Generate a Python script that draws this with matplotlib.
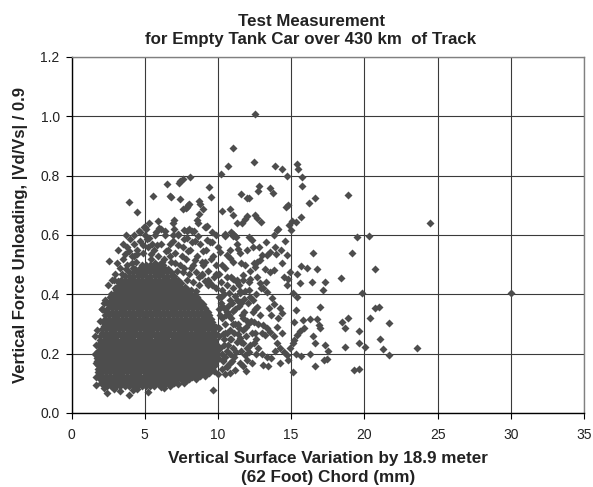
import matplotlib
matplotlib.use("Agg")
import matplotlib.pyplot as plt

plt.rcParams['font.family'] = ['Liberation Sans', 'DejaVu Sans']

# ---------------- data ----------------
x_ticks = [0, 5, 10, 15, 20, 25, 30, 35]
y_ticks = [0.0, 0.2, 0.4, 0.6, 0.8, 1.0, 1.2]

# dense core of the cloud: one y level per row, x positions read across the solid blob
core_y = [0.090, 0.102, 0.114, 0.126, 0.138, 0.150, 0.162, 0.174, 0.186, 0.198,
          0.210, 0.222, 0.234, 0.246, 0.258, 0.270, 0.282, 0.294, 0.306, 0.318,
          0.330, 0.342, 0.354, 0.366, 0.378, 0.390, 0.402, 0.414, 0.426, 0.438,
          0.450, 0.462, 0.474, 0.486, 0.498]
core_x = [
    [2.42, 2.7, 3.01, 3.3, 3.62, 3.9, 4.18, 4.5, 4.79, 5.08, 5.37, 5.6],
    [2.1, 2.38, 2.66, 2.95, 3.25, 3.55, 3.84, 4.12, 4.43, 4.72, 5.0, 5.3, 5.6, 5.88, 6.17, 6.46, 6.74, 7.0],
    [1.92, 2.22, 2.5, 2.81, 3.1, 3.4, 3.68, 3.97, 4.27, 4.58, 4.86, 5.15, 5.45, 5.74, 6.03, 6.32, 6.6, 6.9, 7.2, 7.48, 7.77, 8.0],
    [1.85, 2.08, 2.36, 2.65, 2.96, 3.25, 3.53, 3.82, 4.12, 4.42, 4.71, 5.0, 5.3, 5.6, 5.89, 6.18, 6.47, 6.75, 7.05, 7.34, 7.62, 7.92, 8.2, 8.5, 8.78],
    [1.8, 2.06, 2.33, 2.62, 2.9, 3.2, 3.47, 3.78, 4.05, 4.36, 4.63, 4.94, 5.21, 5.52, 5.8, 6.1, 6.37, 6.68, 6.95, 7.26, 7.53, 7.84, 8.11, 8.42, 8.69, 9.0, 9.28],
    [1.93, 2.2, 2.48, 2.77, 3.05, 3.34, 3.62, 3.92, 4.2, 4.5, 4.78, 5.08, 5.36, 5.66, 5.94, 6.24, 6.52, 6.82, 7.1, 7.4, 7.68, 7.98, 8.26, 8.56, 8.84, 9.14, 9.4, 9.6],
    [1.8, 2.07, 2.34, 2.63, 2.91, 3.2, 3.48, 3.77, 4.06, 4.35, 4.63, 4.93, 5.21, 5.51, 5.79, 6.09, 6.37, 6.67, 6.95, 7.25, 7.53, 7.83, 8.11, 8.41, 8.69, 8.99, 9.27, 9.55, 9.8],
    [1.75, 1.9, 2.2, 2.48, 2.77, 3.05, 3.35, 3.63, 3.92, 4.21, 4.5, 4.78, 5.07, 5.36, 5.65, 5.94, 6.23, 6.52, 6.81, 7.1, 7.39, 7.68, 7.97, 8.26, 8.55, 8.84, 9.13, 9.42, 9.7, 9.9],
    [1.76, 2.04, 2.33, 2.62, 2.91, 3.2, 3.49, 3.78, 4.07, 4.36, 4.65, 4.94, 5.23, 5.52, 5.81, 6.1, 6.39, 6.68, 6.97, 7.26, 7.55, 7.84, 8.13, 8.42, 8.71, 9.0, 9.29, 9.58, 9.85, 10.0],
    [1.72, 1.9, 2.19, 2.47, 2.76, 3.05, 3.34, 3.63, 3.92, 4.21, 4.5, 4.79, 5.08, 5.37, 5.66, 5.95, 6.24, 6.53, 6.82, 7.11, 7.4, 7.69, 7.98, 8.27, 8.56, 8.85, 9.14, 9.43, 9.72, 9.98],
    [1.8, 2.08, 2.36, 2.65, 2.94, 3.23, 3.52, 3.81, 4.1, 4.39, 4.68, 4.97, 5.26, 5.55, 5.84, 6.13, 6.42, 6.71, 7.0, 7.29, 7.58, 7.87, 8.16, 8.45, 8.74, 9.03, 9.32, 9.61, 9.9],
    [1.93, 2.22, 2.51, 2.8, 3.09, 3.38, 3.67, 3.96, 4.25, 4.54, 4.83, 5.12, 5.41, 5.7, 5.99, 6.28, 6.57, 6.86, 7.15, 7.44, 7.73, 8.02, 8.31, 8.6, 8.89, 9.18, 9.47, 9.76, 10.02],
    [1.85, 2.12, 2.4, 2.69, 2.98, 3.27, 3.56, 3.85, 4.14, 4.43, 4.72, 5.01, 5.3, 5.59, 5.88, 6.17, 6.46, 6.75, 7.04, 7.33, 7.62, 7.91, 8.2, 8.49, 8.78, 9.07, 9.36, 9.64, 9.9],
    [1.98, 2.27, 2.56, 2.85, 3.14, 3.43, 3.72, 4.01, 4.3, 4.59, 4.88, 5.17, 5.46, 5.75, 6.04, 6.33, 6.62, 6.91, 7.2, 7.49, 7.78, 8.07, 8.36, 8.65, 8.94, 9.23, 9.52, 9.8],
    [1.95, 2.2, 2.48, 2.77, 3.06, 3.35, 3.64, 3.93, 4.22, 4.51, 4.8, 5.09, 5.38, 5.67, 5.96, 6.25, 6.54, 6.83, 7.12, 7.41, 7.7, 7.99, 8.28, 8.57, 8.86, 9.15, 9.44, 9.72],
    [2.05, 2.34, 2.63, 2.92, 3.21, 3.5, 3.79, 4.08, 4.37, 4.66, 4.95, 5.24, 5.53, 5.82, 6.11, 6.4, 6.69, 6.98, 7.27, 7.56, 7.85, 8.14, 8.43, 8.72, 9.01, 9.3, 9.58, 9.8],
    [2.1, 2.38, 2.67, 2.96, 3.25, 3.54, 3.83, 4.12, 4.41, 4.7, 4.99, 5.28, 5.57, 5.86, 6.15, 6.44, 6.73, 7.02, 7.31, 7.6, 7.89, 8.18, 8.47, 8.76, 9.05, 9.34, 9.62],
    [2.2, 2.5, 2.79, 3.08, 3.37, 3.66, 3.95, 4.24, 4.53, 4.82, 5.11, 5.4, 5.69, 5.98, 6.27, 6.56, 6.85, 7.14, 7.43, 7.72, 8.01, 8.3, 8.59, 8.88, 9.17, 9.46, 9.7],
    [2.15, 2.42, 2.71, 3.0, 3.29, 3.58, 3.87, 4.16, 4.45, 4.74, 5.03, 5.32, 5.61, 5.9, 6.19, 6.48, 6.77, 7.06, 7.35, 7.64, 7.93, 8.22, 8.51, 8.8, 9.09, 9.38, 9.6],
    [2.3, 2.58, 2.87, 3.16, 3.45, 3.74, 4.03, 4.32, 4.61, 4.9, 5.19, 5.48, 5.77, 6.06, 6.35, 6.64, 6.93, 7.22, 7.51, 7.8, 8.09, 8.38, 8.67, 8.96, 9.25, 9.5],
    [2.3, 2.56, 2.85, 3.14, 3.43, 3.72, 4.01, 4.3, 4.59, 4.88, 5.17, 5.46, 5.75, 6.04, 6.33, 6.62, 6.91, 7.2, 7.49, 7.78, 8.07, 8.36, 8.65, 8.94, 9.2, 9.4],
    [2.45, 2.74, 3.03, 3.32, 3.61, 3.9, 4.19, 4.48, 4.77, 5.06, 5.35, 5.64, 5.93, 6.22, 6.51, 6.8, 7.09, 7.38, 7.67, 7.96, 8.25, 8.54, 8.83, 9.1, 9.3],
    [2.5, 2.77, 3.06, 3.35, 3.64, 3.93, 4.22, 4.51, 4.8, 5.09, 5.38, 5.67, 5.96, 6.25, 6.54, 6.83, 7.12, 7.41, 7.7, 7.99, 8.28, 8.57, 8.86, 9.15],
    [2.65, 2.94, 3.23, 3.52, 3.81, 4.1, 4.39, 4.68, 4.97, 5.26, 5.55, 5.84, 6.13, 6.42, 6.71, 7.0, 7.29, 7.58, 7.87, 8.16, 8.45, 8.74, 9.0],
    [2.7, 2.98, 3.27, 3.56, 3.85, 4.14, 4.43, 4.72, 5.01, 5.3, 5.59, 5.88, 6.17, 6.46, 6.75, 7.04, 7.33, 7.62, 7.91, 8.2, 8.49, 8.78],
    [2.85, 3.13, 3.42, 3.71, 4.0, 4.29, 4.58, 4.87, 5.16, 5.45, 5.74, 6.03, 6.32, 6.61, 6.9, 7.19, 7.48, 7.77, 8.06, 8.35, 8.6],
    [2.9, 3.18, 3.47, 3.76, 4.05, 4.34, 4.63, 4.92, 5.21, 5.5, 5.79, 6.08, 6.37, 6.66, 6.95, 7.24, 7.53, 7.82, 8.11, 8.4],
    [3.05, 3.33, 3.62, 3.91, 4.2, 4.49, 4.78, 5.07, 5.36, 5.65, 5.94, 6.23, 6.52, 6.81, 7.1, 7.39, 7.68, 7.97, 8.15],
    [3.1, 3.38, 3.67, 3.96, 4.25, 4.54, 4.83, 5.12, 5.41, 5.7, 5.99, 6.28, 6.57, 6.86, 7.15, 7.44, 7.73],
    [3.25, 3.53, 3.82, 4.11, 4.4, 4.69, 4.98, 5.27, 5.56, 5.85, 6.14, 6.43, 6.72, 7.01, 7.3, 7.5],
    [3.4, 3.68, 3.97, 4.26, 4.55, 4.84, 5.13, 5.42, 5.71, 6.0, 6.29, 6.58, 6.87, 7.16, 7.3],
    [3.65, 3.93, 4.22, 4.51, 4.8, 5.09, 5.38, 5.67, 5.96, 6.25, 6.54, 6.83, 7.0],
    [3.9, 4.18, 4.47, 4.76, 5.05, 5.34, 5.63, 5.92, 6.21, 6.5, 6.78],
    [4.35, 4.63, 4.92, 5.21, 5.5, 5.79, 6.08, 6.37, 6.6],
    [4.8, 5.08, 5.37, 5.66, 5.95, 6.25],
]

# points around the core (semi-dense fringe)
halo_x = [3.2, 3.5, 3.8, 3.77, 2.56, 2.75, 2.5, 2.63, 3.0, 3.3, 4.1, 4.3, 4.5, 4.4, 4.7, 4.9, 5.0, 5.2,
          5.4, 5.3, 5.6, 5.8, 5.9, 6.1, 6.3, 6.4, 6.6, 6.8, 6.9, 7.1, 7.3, 7.4, 7.6, 7.8, 7.9, 8.1,
          8.3, 8.4, 8.6, 8.8, 9.0, 9.2, 9.3, 9.5, 9.7, 9.9, 10.0, 5.1, 6.0, 7.0, 4.6, 8.0, 5.7, 6.2,
          7.2, 8.0, 8.7, 4.0, 3.5, 4.2, 5.5, 7.7, 8.9, 9.4, 6.7, 4.45, 3.1, 2.9, 2.3, 2.1,
          9.9, 10.2, 10.4, 10.6, 10.8, 10.3, 10.6, 10.9, 11.2, 10.5, 10.8, 11.1, 11.4, 11.7, 10.4,
          10.7, 11.0, 11.3, 11.6, 10.5, 10.8, 11.1, 10.3, 10.0, 9.7, 10.6, 11.9, 12.2, 12.0, 11.5,
          11.0, 10.1, 10.5, 12.3, 12.6, 11.8, 12.4, 11.3, 10.9, 12.1, 10.25, 10.45, 10.15, 10.7,
          10.35, 10.9, 10.2, 10.55, 11.05, 10.85, 9.85, 10.1, 10.4, 10.65, 9.6, 9.3, 8.9, 8.5,
          1.67, 2.4, 3.9, 5.25, 2.2, 1.6, 1.6, 1.83, 3.3, 4.5, 8.2, 8.8, 7.9, 6.3, 6.9, 7.5,
          6.15, 6.45, 6.75, 7.05, 7.25, 7.55, 7.7, 7.95, 8.25, 8.45, 8.65, 8.95, 9.15, 9.45, 9.65,
          9.85, 8.15, 8.5, 8.9, 9.1, 7.6, 7.9, 8.3, 8.7, 9.35, 5.45, 5.85, 5.15, 4.85, 4.25, 3.95,
          3.65, 4.15, 3.45, 3.75, 3.15, 2.95, 2.7, 2.45, 2.35,
          10.05, 10.3, 10.75, 11.15, 11.45, 11.75, 12.05, 11.65, 11.95, 12.25, 11.35, 11.55, 11.25,
          10.95, 10.65, 10.35, 12.15, 12.5, 12.6, 12.0, 10.15, 10.05, 10.25, 10.95, 11.45,
          2.9, 4.2, 6.1, 6.7, 7.3, 7.7, 8.5, 9.1, 9.4, 2.0, 1.7, 1.65, 1.7, 1.75, 1.95, 2.05, 2.2,
          10.1, 10.35, 10.6, 10.85, 11.15, 11.45, 10.2, 10.45, 10.75, 11.05, 11.6, 11.85, 12.2, 12.5,
          12.75, 13.0, 12.6, 12.3, 11.9, 11.5, 10.8, 10.45, 12.7, 13.3, 13.6, 14.0, 14.4, 13.9, 13.6,
          12.95, 12.2, 11.7, 10.6, 10.3, 10.8, 11.3, 12.8, 13.3, 14.3, 14.6]
halo_y = [0.55, 0.52, 0.50, 0.56, 0.512, 0.448, 0.431, 0.392, 0.47, 0.49, 0.53, 0.57, 0.55, 0.51,
          0.58, 0.54, 0.60, 0.56, 0.52, 0.59, 0.55, 0.61, 0.53, 0.57, 0.52, 0.60, 0.55, 0.51, 0.58,
          0.54, 0.60, 0.50, 0.56, 0.52, 0.59, 0.55, 0.50, 0.58, 0.53, 0.57, 0.50, 0.55, 0.48, 0.52,
          0.46, 0.50, 0.56, 0.62, 0.625, 0.62, 0.615, 0.62, 0.505, 0.49, 0.48, 0.47, 0.46, 0.585,
          0.57, 0.49, 0.57, 0.49, 0.51, 0.44, 0.53, 0.535, 0.505, 0.45, 0.38, 0.35,
          0.42, 0.44, 0.40, 0.43, 0.38, 0.36, 0.34, 0.32, 0.35, 0.30, 0.28, 0.27, 0.30, 0.28, 0.25,
          0.23, 0.22, 0.24, 0.21, 0.19, 0.17, 0.19, 0.15, 0.13, 0.14, 0.21, 0.26, 0.23, 0.31, 0.41,
          0.42, 0.47, 0.49, 0.27, 0.25, 0.34, 0.38, 0.45, 0.46, 0.44, 0.32, 0.27, 0.22, 0.36,
          0.18, 0.25, 0.39, 0.33, 0.3, 0.2, 0.29, 0.35, 0.23, 0.16, 0.43, 0.45, 0.47, 0.41,
          0.095, 0.067, 0.061, 0.07, 0.085, 0.258, 0.20, 0.15, 0.075, 0.08, 0.12, 0.13, 0.11, 0.085, 0.1, 0.115,
          0.51, 0.545, 0.57, 0.505, 0.565, 0.53, 0.585, 0.545, 0.575, 0.515, 0.595, 0.545, 0.51, 0.575, 0.53,
          0.47, 0.49, 0.475, 0.465, 0.445, 0.475, 0.45, 0.44, 0.43, 0.43, 0.535, 0.565, 0.585, 0.565, 0.53, 0.545,
          0.535, 0.505, 0.47, 0.485, 0.445, 0.42, 0.40, 0.37, 0.34,
          0.39, 0.415, 0.405, 0.395, 0.36, 0.385, 0.37, 0.33, 0.29, 0.31, 0.265, 0.24, 0.205,
          0.175, 0.155, 0.175, 0.205, 0.27, 0.40, 0.18, 0.33, 0.26, 0.20, 0.37, 0.43,
          0.08, 0.078, 0.088, 0.092, 0.098, 0.10, 0.115, 0.125, 0.135, 0.10, 0.12, 0.17, 0.23, 0.28, 0.31, 0.35, 0.37,
          0.285, 0.265, 0.27, 0.25, 0.30, 0.285, 0.37, 0.35, 0.33, 0.345, 0.37, 0.41, 0.39, 0.35,
          0.30, 0.27, 0.20, 0.17, 0.14, 0.17, 0.135, 0.13, 0.46, 0.44, 0.33, 0.29, 0.27, 0.21, 0.185,
          0.42, 0.48, 0.45, 0.46, 0.50, 0.55, 0.57, 0.56, 0.575, 0.55, 0.58]

# scattered points read individually
sparse_x = [12.54, 11.04, 10.67, 12.47, 13.89, 14.39, 15.39, 15.5, 14.71, 15.75, 10.19, 8.1, 15.75,
            12.8, 12.75, 13.57, 13.75, 11.56, 11.97, 12.15, 9.4, 9.53, 16.6, 18.88, 16.2, 14.8,
            14.64, 10.27, 10.85, 11.05, 8.72, 8.75, 8.97, 8.68, 11.63, 11.29, 11.97, 12.5, 12.66,
            12.97, 14.82, 15.05, 15.35, 15.7, 14.1, 7.87, 7.6, 7.98, 8.05, 7.83, 8.56, 8.62, 9.24,
            9.1, 9.19, 10.49, 10.5, 10.88, 11.18, 11.06, 11.86, 19.5, 20.35, 7.42, 7.6, 7.35, 6.5,
            5.55, 6.73, 6.8, 7.42, 3.93, 4.5, 5.9, 5.32, 5.02, 7.0, 6.92, 7.71, 7.87, 8.2, 8.39,
            3.72, 4.96, 6.1, 6.4, 5.7, 4.7, 4.3, 6.9, 7.3, 9.6, 9.9,
            10.5, 11.06, 11.25, 12.1, 12.3, 14.0, 15.0, 13.8, 9.24, 9.58, 11.4, 11.5, 11.98, 12.4,
            13.57, 13.9, 13.35, 13.0, 13.98, 10.15, 10.6, 10.83, 11.06, 11.6, 11.86, 12.43, 12.66,
            12.9, 12.54, 13.2, 13.57, 13.8, 14.5, 14.8, 14.75, 11.06, 11.3, 11.74, 12.2, 12.9, 13.1,
            13.35, 12.1, 11.5, 11.3, 11.5, 13.7, 13.8, 13.5, 12.66, 12.4, 12.9, 14.25, 14.37, 14.13,
            11.74, 12.1, 12.43, 13.1, 13.35, 13.57, 13.8, 13.2, 14.0, 14.25, 14.5, 14.7, 12.43,
            12.77, 13.0, 13.35, 13.1, 13.45, 11.5, 11.74, 11.98, 11.86, 11.2, 11.74, 14.25, 14.8,
            9.65,
            16.5, 15.7, 16.1, 16.75, 16.4, 17.3, 18.4, 17.2, 15.4, 15.6, 14.9, 14.75, 14.4, 15.1,
            15.4, 17.0, 15.3, 15.2, 15.8, 16.3, 16.75, 16.9, 17.0, 15.85, 15.6, 15.4, 15.2, 16.5,
            16.65, 17.3, 17.55, 17.45, 17.25, 15.1, 14.9, 15.3, 16.3, 16.6, 15.1, 15.7,
            19.15, 20.75, 19.86, 20.75, 21.0, 18.9, 18.5, 18.65, 20.4, 21.65, 19.6, 21.1, 18.7,
            19.6, 20.06, 21.25, 21.7, 23.6, 19.3, 19.6, 24.5, 30.0]
sparse_y = [1.009, 0.892, 0.831, 0.845, 0.834, 0.823, 0.841, 0.823, 0.800, 0.796, 0.807, 0.796, 0.766,
            0.764, 0.747, 0.757, 0.741, 0.737, 0.726, 0.725, 0.763, 0.729, 0.725, 0.736, 0.709, 0.702,
            0.695, 0.680, 0.688, 0.666, 0.713, 0.704, 0.688, 0.672, 0.642, 0.639, 0.665, 0.668, 0.656,
            0.644, 0.635, 0.648, 0.643, 0.660, 0.620, 0.695, 0.689, 0.702, 0.704, 0.691, 0.652, 0.639, 0.631,
            0.626, 0.628, 0.598, 0.604, 0.609, 0.598, 0.598, 0.654, 0.592, 0.598, 0.783, 0.788, 0.774, 0.772,
            0.730, 0.732, 0.728, 0.722, 0.712, 0.679, 0.646, 0.639, 0.628, 0.651, 0.639, 0.617, 0.612, 0.612, 0.612,
            0.601, 0.626, 0.620, 0.612, 0.600, 0.610, 0.600, 0.600, 0.605, 0.610, 0.600,
            0.599, 0.605, 0.594, 0.594, 0.582, 0.616, 0.616, 0.599, 0.582, 0.577, 0.554, 0.541, 0.549, 0.560,
            0.543, 0.560, 0.532, 0.534, 0.537, 0.543, 0.532, 0.521, 0.510, 0.504, 0.498, 0.504, 0.510,
            0.515, 0.493, 0.487, 0.476, 0.481, 0.459, 0.453, 0.431, 0.453, 0.442, 0.465, 0.453, 0.437, 0.420,
            0.409, 0.414, 0.403, 0.381, 0.375, 0.386, 0.369, 0.353, 0.358, 0.342, 0.330, 0.353, 0.336, 0.319,
            0.319, 0.302, 0.308, 0.297, 0.286, 0.274, 0.258, 0.263, 0.235, 0.218, 0.207, 0.196, 0.235,
            0.218, 0.200, 0.190, 0.162, 0.157, 0.252, 0.235, 0.218, 0.196, 0.146, 0.157, 0.168, 0.179,
            0.078,
            0.541, 0.496, 0.490, 0.487, 0.442, 0.442, 0.456, 0.414, 0.470, 0.437, 0.476, 0.534, 0.505, 0.403,
            0.392, 0.357, 0.348, 0.306, 0.313, 0.317, 0.317, 0.297, 0.288, 0.286, 0.277, 0.263, 0.246, 0.261,
            0.235, 0.229, 0.209, 0.182, 0.179, 0.235, 0.218, 0.200, 0.198, 0.159, 0.138, 0.192,
            0.541, 0.485, 0.403, 0.353, 0.357, 0.321, 0.308, 0.288, 0.319, 0.302, 0.276, 0.250, 0.223,
            0.237, 0.221, 0.216, 0.196, 0.218, 0.146, 0.150, 0.640, 0.403]

# ---------------- assemble ----------------
xs, ys = [], []
for yv, row in zip(core_y, core_x):
    xs.extend(row)
    ys.extend([yv] * len(row))
xs += halo_x + sparse_x
ys += halo_y + sparse_y

W, H = 593, 487
fig = plt.figure(figsize=(W / 100, H / 100), dpi=100)
L, R, T, B = 71.5, 584, 57, 413
ax = fig.add_axes([L / W, 1 - B / H, (R - L) / W, (B - T) / H])

ax.plot(xs, ys, ls='none', marker='D', ms=3.8, color='#4d4d4d', mec='none', zorder=3)

ax.set_xlim(0, 35)
ax.set_ylim(0, 1.2)
ax.set_xticks(x_ticks)
ax.set_yticks(y_ticks)
ax.set_yticklabels([f"{v:.1f}" for v in y_ticks])
ax.grid(True, color='#3a3a3a', lw=0.8)
ax.set_axisbelow(True)
ax.tick_params(direction='out', length=4, width=0.8, labelsize=10,
               color='black', labelcolor='#222222')
ax.tick_params(axis='y', pad=4.5)
ax.tick_params(axis='x', pad=7)
for s in ['left', 'bottom']:
    ax.spines[s].set_color('black')
    ax.spines[s].set_linewidth(1.0)
for s in ['top', 'right']:
    ax.spines[s].set_color('#808080')
    ax.spines[s].set_linewidth(1.0)

ax.set_title("Test Measurement\nfor Empty Tank Car over 430 km  of Track",
             fontsize=12.2, fontweight='bold', linespacing=1.25, va='center', pad=0,
             x=(311 - L) / (R - L), y=(B - 30) / (B - T), color='#222222')
ax.set_xlabel("Vertical Surface Variation by 18.9 meter\n(62 Foot) Chord (mm)",
              fontsize=12.3, fontweight='bold', linespacing=1.28, color='#222222')
ax.xaxis.label.set_va('center')
ax.xaxis.set_label_coords((328 - L) / (R - L), (B - 468) / (B - T))
ax.set_ylabel("Vertical Force Unloading, |Vd/Vs| / 0.9",
              fontsize=12, fontweight='bold', color='#222222')
ax.yaxis.label.set_va('center')
ax.yaxis.set_label_coords((21 - L) / (R - L), 0.5)

fig.savefig('out.png', dpi=100)
